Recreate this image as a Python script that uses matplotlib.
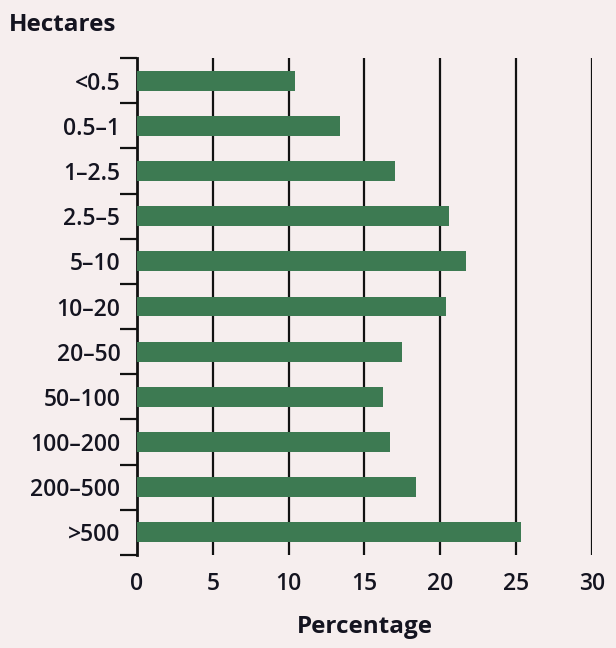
import matplotlib.pyplot as plt
import numpy as np

categories = ['<0.5', '0.5–1', '1–2.5', '2.5–5', '5–10', '10–20', '20–50',
              '50–100', '100–200', '200–500', '>500']
values = [10.4, 13.4, 17.0, 20.6, 21.7, 20.4, 17.5, 16.2, 16.7, 18.4, 25.3]
x_ticks = [0, 5, 10, 15, 20, 25, 30]

bg = '#f6eeee'
bar_color = '#3d7a52'
text_color = '#141420'

plt.rcParams['font.family'] = ['Open Sans', 'DejaVu Sans']

fig = plt.figure(figsize=(6.16, 6.48), dpi=100, facecolor=bg)
ax = fig.add_axes([0.2224, 0.1435, 0.7386, 0.767])
ax.set_facecolor(bg)

pos = np.arange(len(categories))
ax.barh(pos, values, height=0.44, color=bar_color, zorder=3)

ax.set_ylim(len(categories) - 0.5, -0.5)
ax.set_xlim(0, 30)

# gridlines
for t in x_ticks[1:]:
    ax.axvline(t, color='#111111', lw=1.6, zorder=1)

for s in ['top', 'right', 'bottom']:
    ax.spines[s].set_visible(False)
ax.spines['left'].set_linewidth(2)
ax.spines['left'].set_color('#111111')

# y ticks at category boundaries, labels at centres
ax.set_yticks(np.arange(-0.5, len(categories) + 0.5, 1))
ax.set_yticklabels([])
ax.tick_params(axis='y', which='major', length=12, width=1.6, color='#111111')
ax.set_yticks(pos, minor=True)
ax.set_yticklabels(categories, minor=True, fontsize=16.5, fontweight='semibold',
                   color=text_color)
ax.tick_params(axis='y', which='minor', length=0, pad=12)

ax.set_xticks(x_ticks)
ax.set_xticklabels([str(t) for t in x_ticks], fontsize=16.5, fontweight='semibold',
                   color=text_color)
ax.tick_params(axis='x', length=0, pad=12)

ax.set_xlabel('Percentage', fontsize=17.5, fontweight='bold', color=text_color,
              labelpad=14)
fig.text(0.014, 0.962, 'Hectares', fontsize=17.5, fontweight='bold',
         color=text_color, ha='left', va='center')

fig.savefig('out.png', dpi=100, facecolor=bg)
